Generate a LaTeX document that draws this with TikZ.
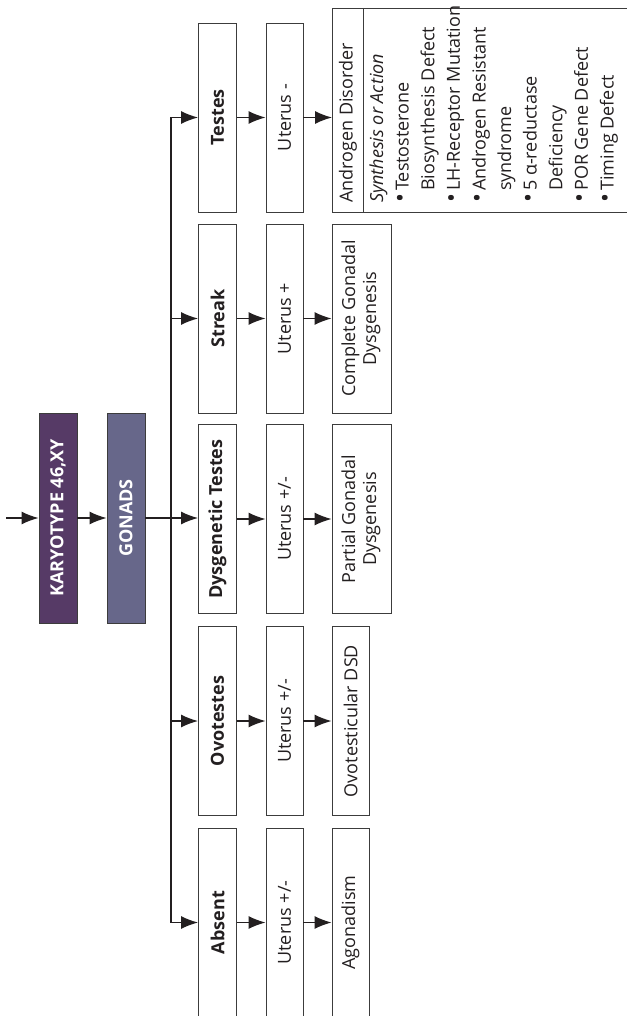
\documentclass[tikz,border=0pt]{standalone}
\usepackage{fontspec}
\setmainfont{Open Sans}
\usepackage{graphicx}
\usetikzlibrary{arrows.meta}
\definecolor{kcol}{HTML}{563A66}
\definecolor{gcol}{HTML}{67678A}
\definecolor{lcol}{HTML}{3C3C3C}
\definecolor{acol}{HTML}{231F20}
\newcommand{\rt}[1]{\rotatebox{90}{#1}}
\newcommand{\bul}{{\fontsize{24}{24}\selectfont\textbullet}}
\begin{document}
\begin{tikzpicture}[x=1pt,y=-1pt,
  box/.style={draw=lcol, line width=0.9pt, inner sep=0pt, fill=white, text=acol,
    font=\fontsize{18}{21}\selectfont},
  topbox/.style={box, minimum width=38pt, minimum height=210pt, text=white,
    font=\fontsize{18}{21}\selectfont\bfseries},
  gbox/.style={box, minimum width=38pt, minimum height=189pt,
    font=\fontsize{18}{21}\selectfont\bfseries},
  ubox/.style={box, minimum width=37pt, minimum height=189pt},
  wbox/.style={box, minimum width=59pt, minimum height=189pt},
  nbox/.style={box, minimum width=37pt, minimum height=189pt},
  txt/.style={inner sep=0pt, text=acol},
  arr/.style={draw=acol, line width=1.3pt, -{Latex[length=17pt,width=13pt]}},
  busline/.style={draw=acol, line width=1.3pt}]
\useasboundingbox (0,0) rectangle (626,1016);
% left chain
\node[topbox, fill=kcol] (kary) at (58,518) {\rt{KARYOTYPE 46,XY}};
\node[topbox, fill=gcol] (gon) at (126,518) {\rt{GONADS}};
% gonad column
\node[gbox] (testes) at (217.5,117.5) {\rt{Testes}};
\node[gbox] (streak) at (217.5,318.5) {\rt{Streak}};
\node[gbox] (dys) at (217.5,519) {\rt{Dysgenetic Testes}};
\node[gbox] (ovo) at (217.5,721) {\rt{Ovotestes}};
\node[gbox] (absent) at (217.5,922.5) {\rt{Absent}};
% uterus column
\node[ubox] (u1) at (284.5,117.5) {\rt{Uterus -}};
\node[ubox] (u2) at (284.5,318.5) {\rt{Uterus +}};
\node[ubox] (u3) at (284.5,519) {\rt{Uterus +/-}};
\node[ubox] (u4) at (284.5,721) {\rt{Uterus +/-}};
\node[ubox] (u5) at (284.5,922.5) {\rt{Uterus +/-}};
% result column
\node[box, minimum width=310pt, minimum height=204pt, anchor=north west] (andr) at (332,8) {};
\draw[draw=lcol, line width=0.9pt] ([xshift=31pt]andr.north west) -- ([xshift=31pt]andr.south west);
\node[txt, anchor=south, font=\fontsize{18}{21}\selectfont] (andrhead) at (348,203) {\rt{Androgen Disorder}};
\node[txt, anchor=south west, font=\fontsize{18}{25.6}\selectfont] (andrlist) at (365,203) {\rt{%
\begin{tabular}{@{}l@{\hspace{3pt}}l@{}}
\multicolumn{2}{@{}l@{}}{\itshape Synthesis or Action}\\
\bul & Testosterone\\
 & Biosynthesis Defect\\
\bul & LH-Receptor Mutation\\
\bul & Androgen Resistant\\
 & syndrome\\
\bul & 5 α-reductase\\
 & Deficiency\\
\bul & POR Gene Defect\\
\bul & Timing Defect
\end{tabular}}};
\node[wbox] (cgd) at (361.5,318.5) {\rt{\begin{tabular}{@{}c@{}}Complete Gonadal\\Dysgenesis\end{tabular}}};
\node[wbox] (pgd) at (361.5,519) {\rt{\begin{tabular}{@{}c@{}}Partial Gonadal\\Dysgenesis\end{tabular}}};
\node[nbox] (odsd) at (350.5,721) {\rt{Ovotesticular DSD}};
\node[nbox] (agon) at (350.5,922.5) {\rt{Agonadism}};
% connectors
\coordinate (in) at (6,518);
\coordinate (bus) at (171,0);
\draw[arr] (in) -- (kary.west);
\draw[arr] (kary.east) -- (gon.west);
\draw[arr] (gon.east) -- (gon.east -| dys.west);
\draw[busline] (bus |- testes.west) -- (bus |- absent.west);
\draw[arr] (bus |- testes.west) -- (testes.west);
\draw[arr] (bus |- streak.west) -- (streak.west);
\draw[arr] (bus |- ovo.west) -- (ovo.west);
\draw[arr] (bus |- absent.west) -- (absent.west);
\foreach \a/\b in {testes/u1, streak/u2, dys/u3, ovo/u4, absent/u5}
  \draw[arr] (\a.east) -- (\b.west);
\draw[arr] (u1.east) -- (u1.east -| andr.west);
\foreach \a/\b in {u2/cgd, u3/pgd, u4/odsd, u5/agon}
  \draw[arr] (\a.east) -- (\b.west);
\end{tikzpicture}
\end{document}
